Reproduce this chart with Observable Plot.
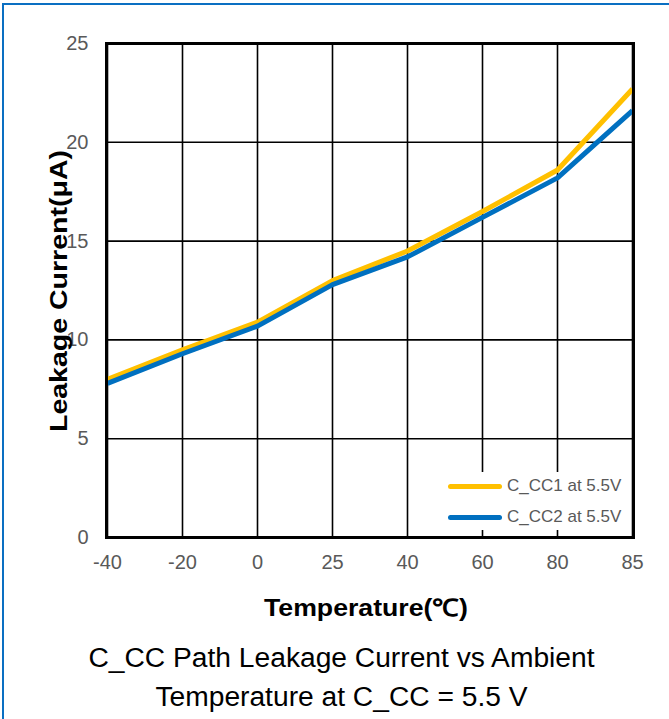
<!DOCTYPE html>
<html>
<head>
<meta charset="utf-8">
<script src="https://cdn.jsdelivr.net/npm/d3@7"></script>
<script src="https://cdn.jsdelivr.net/npm/@observablehq/plot@0.6"></script>
<style>
  html, body { margin: 0; padding: 0; background: #fff; }
  body { width: 669px; height: 719px; overflow: hidden; font-family: "Liberation Sans", Arial, sans-serif; }
  #frame { position: absolute; left: 2px; top: 3px; width: 700px; height: 760px; border-left: 2px solid #0a6fc2; border-top: 2px solid #0a6fc2; box-sizing: border-box; }
  #wrap { position: absolute; left: 0; top: 0; width: 669px; }
  #legend { position: absolute; left: 442px; top: 472px; width: 186px; height: 58px; background: #fff; }
  .item { position: absolute; left: 6px; display: flex; align-items: center; font-size: 17px; color: #595959; }
  .swatch { width: 54px; height: 5px; border-radius: 3px; margin-right: 5px; }
  #caption { position: absolute; left: 0; top: 638px; width: 683px; text-align: center; font-size: 28.2px; line-height: 39px; color: #000; }
</style>
</head>
<body>
<div id="frame"></div>
<div id="wrap"></div>
<div id="legend"></div>
<div id="caption">C_CC Path Leakage Current vs Ambient<br>Temperature at C_CC = 5.5 V</div>
<script>
const temperatures = ["-40", "-20", "0", "25", "40", "60", "80", "85"];
const cc1Values = [8.0, 9.5, 10.9, 13.0, 14.5, 16.5, 18.6, 22.7];
const cc2Values = [7.8, 9.3, 10.7, 12.8, 14.2, 16.2, 18.2, 21.6];
const seriesNames = ["C_CC1 at 5.5V", "C_CC2 at 5.5V"];
const seriesColors = ["#ffc000", "#0070c0"];
const yTicks = [0, 5, 10, 15, 20, 25];

const rows = [];
temperatures.forEach((t, i) => {
  rows.push({t, v: cc1Values[i], s: seriesNames[0]});
  rows.push({t, v: cc2Values[i], s: seriesNames[1]});
});

const chart = Plot.plot({
  width: 669,
  height: 620,
  marginLeft: 106,
  marginRight: 36,
  marginTop: 43,
  marginBottom: 83,
  style: {fontFamily: "'Liberation Sans', Arial, sans-serif", background: "transparent", overflow: "visible"},
  x: {type: "point", domain: temperatures, padding: 0, label: null},
  y: {domain: [0, 25], label: null},
  color: {domain: seriesNames, range: seriesColors},
  marks: [
    Plot.gridX(temperatures, {stroke: "#000", strokeOpacity: 1, strokeWidth: 1.6}),
    Plot.gridY(yTicks, {stroke: "#000", strokeOpacity: 1, strokeWidth: 1.6}),
    Plot.axisY(yTicks, {tickSize: 0, tickPadding: 18, fontSize: 20, fill: "#595959", label: null}),
    Plot.axisX(temperatures, {tickSize: 0, tickPadding: 17, fontSize: 20, fill: "#595959", label: null}),
    Plot.line(rows, {x: "t", y: "v", z: "s", stroke: "s", strokeWidth: 5, strokeLinejoin: "miter", strokeLinecap: "butt"}),
    Plot.frame({stroke: "#000", strokeWidth: 3})
  ]
});
document.getElementById("wrap").appendChild(chart);

const svg = d3.select(chart);
svg.append("text")
  .attr("x", 366).attr("y", 616)
  .attr("text-anchor", "middle")
  .style("font-size", "24px").style("font-weight", "bold")
  .style("font-family", "'Liberation Sans', Arial, sans-serif")
  .attr("fill", "#000")
  .attr("textLength", 204).attr("lengthAdjust", "spacingAndGlyphs")
  .text("Temperature(℃)");
svg.append("text")
  .attr("transform", "translate(66.5,291) rotate(-90)")
  .attr("text-anchor", "middle")
  .style("font-size", "24px").style("font-weight", "bold")
  .style("font-family", "'Liberation Sans', Arial, sans-serif")
  .attr("fill", "#000")
  .attr("textLength", 282).attr("lengthAdjust", "spacingAndGlyphs")
  .text("Leakage Current(μA)");

const legend = document.getElementById("legend");
seriesNames.forEach((name, i) => {
  const item = document.createElement("div");
  item.className = "item";
  item.style.top = (i === 0 ? 4 : 35) + "px";
  item.innerHTML = `<span class="swatch" style="background:${seriesColors[i]}"></span><span>${name}</span>`;
  legend.appendChild(item);
});
</script>
</body>
</html>
